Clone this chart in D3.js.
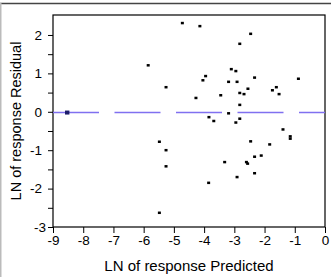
<html>
  <head>
    <script src="https://d3js.org/d3.v7.min.js"></script>
    <meta charset="UTF-8" />
    <style>
      body { margin: 0; background: #fff; }
      text { font-family: Arial, "Liberation Sans", sans-serif; fill: #000; }
    </style>
  </head>
  <body>
    <div id="chart"></div>
    <script>
      // values
      var predicted = [-4.72, -4.14, -5.85, -3.95, -4.04, -5.26, -4.27, -3.84, -2.46, -2.82,
                       -3.10, -2.95, -2.33, -0.88, -3.19, -2.91, -2.55, -1.61, -1.74, -3.45,
                       -2.82, -2.68, -1.52, -2.82, -3.19, -2.82, -3.68, -2.95, -5.48, -5.26,
                       -5.26, -3.85, -5.48, -1.39, -1.15, -1.15, -2.46, -1.83, -2.33, -2.11,
                       -3.32, -2.60, -2.56, -2.91, -2.33]
      var residual = [2.31, 2.23, 1.21, 0.93, 0.82, 0.64, 0.36, -0.14, 2.03, 1.77,
                      1.11, 1.06, 0.89, 0.86, 0.78, 0.78, 0.60, 0.64, 0.56, 0.43,
                      0.49, 0.46, 0.46, 0.18, -0.04, -0.18, -0.24, -0.28, -0.78, -1.00,
                      -1.42, -1.85, -2.63, -0.46, -0.64, -0.70, -0.77, -0.85, -1.17, -1.14,
                      -1.31, -1.31, -1.35, -1.70, -1.60]
      var highlighted = [{x: -8.53, y: -0.02}]
      var meanLine = -0.02
      var xTicks = [-9, -8, -7, -6, -5, -4, -3, -2, -1, 0]
      var yTicks = [-3, -2, -1, 0, 1, 2]
      var yMinorTicks = [-3, -2.5, -2, -1.5, -1, -0.5, 0, 0.5, 1, 1.5, 2]

      var width = 331, height = 277
      var margin = {top: 15, right: 6, bottom: 50, left: 53}
      var w = width - margin.left - margin.right
      var h = 227 - margin.top

      var svg = d3.select("#chart")
        .append("svg")
        .attr("width", width)
        .attr("height", height)

      // window frame
      svg.append("line")
        .attr("x1", 0).attr("x2", width).attr("y1", 3.5).attr("y2", 3.5)
        .attr("stroke", "#444").attr("stroke-width", 1.5)
      svg.append("line")
        .attr("x1", 0.5).attr("x2", 0.5).attr("y1", 3).attr("y2", height)
        .attr("stroke", "#bbb").attr("stroke-width", 2)

      var g = svg.append("g")
        .attr("transform", "translate(" + margin.left + "," + margin.top + ")")

      var x = d3.scaleLinear().domain([-9, 0]).range([0, w])
      var y = d3.scaleLinear().domain([-3, 2.52]).range([h, 0])

      // y axis (minor ticks every 0.5, labels on integers)
      g.append("g")
        .call(d3.axisLeft(y).tickValues(yMinorTicks).tickSize(5)
          .tickFormat(function(d) { return yTicks.indexOf(d) >= 0 ? d : ""; }))
        .call(function(a) { a.select(".domain").remove() })
        .selectAll("text")
        .style("font-size", "13.5px")
        .attr("x", -11)
        .attr("dx", function(d) { return d == -3 ? "4px" : 0 })

      g.append("g")
        .attr("transform", "translate(0," + h + ")")
        .call(d3.axisBottom(x).tickValues(xTicks).tickSize(6).tickFormat(function(d) { return d }))
        .call(function(a) { a.select(".domain").remove() })
        .selectAll("text")
        .style("font-size", "13.5px")
        .attr("y", 8)

      g.selectAll(".tick line").attr("stroke", "#000")

      // plot frame
      g.append("rect")
        .attr("x", 0).attr("y", 0).attr("width", w).attr("height", h)
        .attr("fill", "none").attr("stroke", "#000").attr("stroke-width", 1.2)

      // mean residual line
      g.append("line")
        .attr("x1", 0).attr("x2", w)
        .attr("y1", y(meanLine)).attr("y2", y(meanLine))
        .attr("stroke", "#8070f0").attr("stroke-width", 1.6)
        .attr("stroke-dasharray", "46,15.5")

      var pts = predicted.map(function(d, i) { return {x: d, y: residual[i]} })

      g.selectAll(".pt")
        .data(pts)
        .enter().append("rect")
        .attr("class", "pt")
        .attr("x", function(d) { return x(d.x) - 1.5 })
        .attr("y", function(d) { return y(d.y) - 1.25 })
        .attr("width", 3)
        .attr("height", 2.5)
        .attr("fill", "#000")

      g.selectAll(".hl")
        .data(highlighted)
        .enter().append("rect")
        .attr("class", "hl")
        .attr("x", function(d) { return x(d.x) - 2.2 })
        .attr("y", function(d) { return y(d.y) - 2 })
        .attr("width", 4.4)
        .attr("height", 4)
        .attr("fill", "#1c1c6a")

      // axis titles
      svg.append("text")
        .attr("x", margin.left + w / 2)
        .attr("y", 271)
        .attr("text-anchor", "middle")
        .style("font-size", "15px")
        .text("LN of response Predicted")

      svg.append("text")
        .attr("transform", "translate(21," + (margin.top + h / 2) + ") rotate(-90)")
        .attr("text-anchor", "middle")
        .style("font-size", "14.5px")
        .text("LN of response Residual")
    </script>
  </body>
</html>
